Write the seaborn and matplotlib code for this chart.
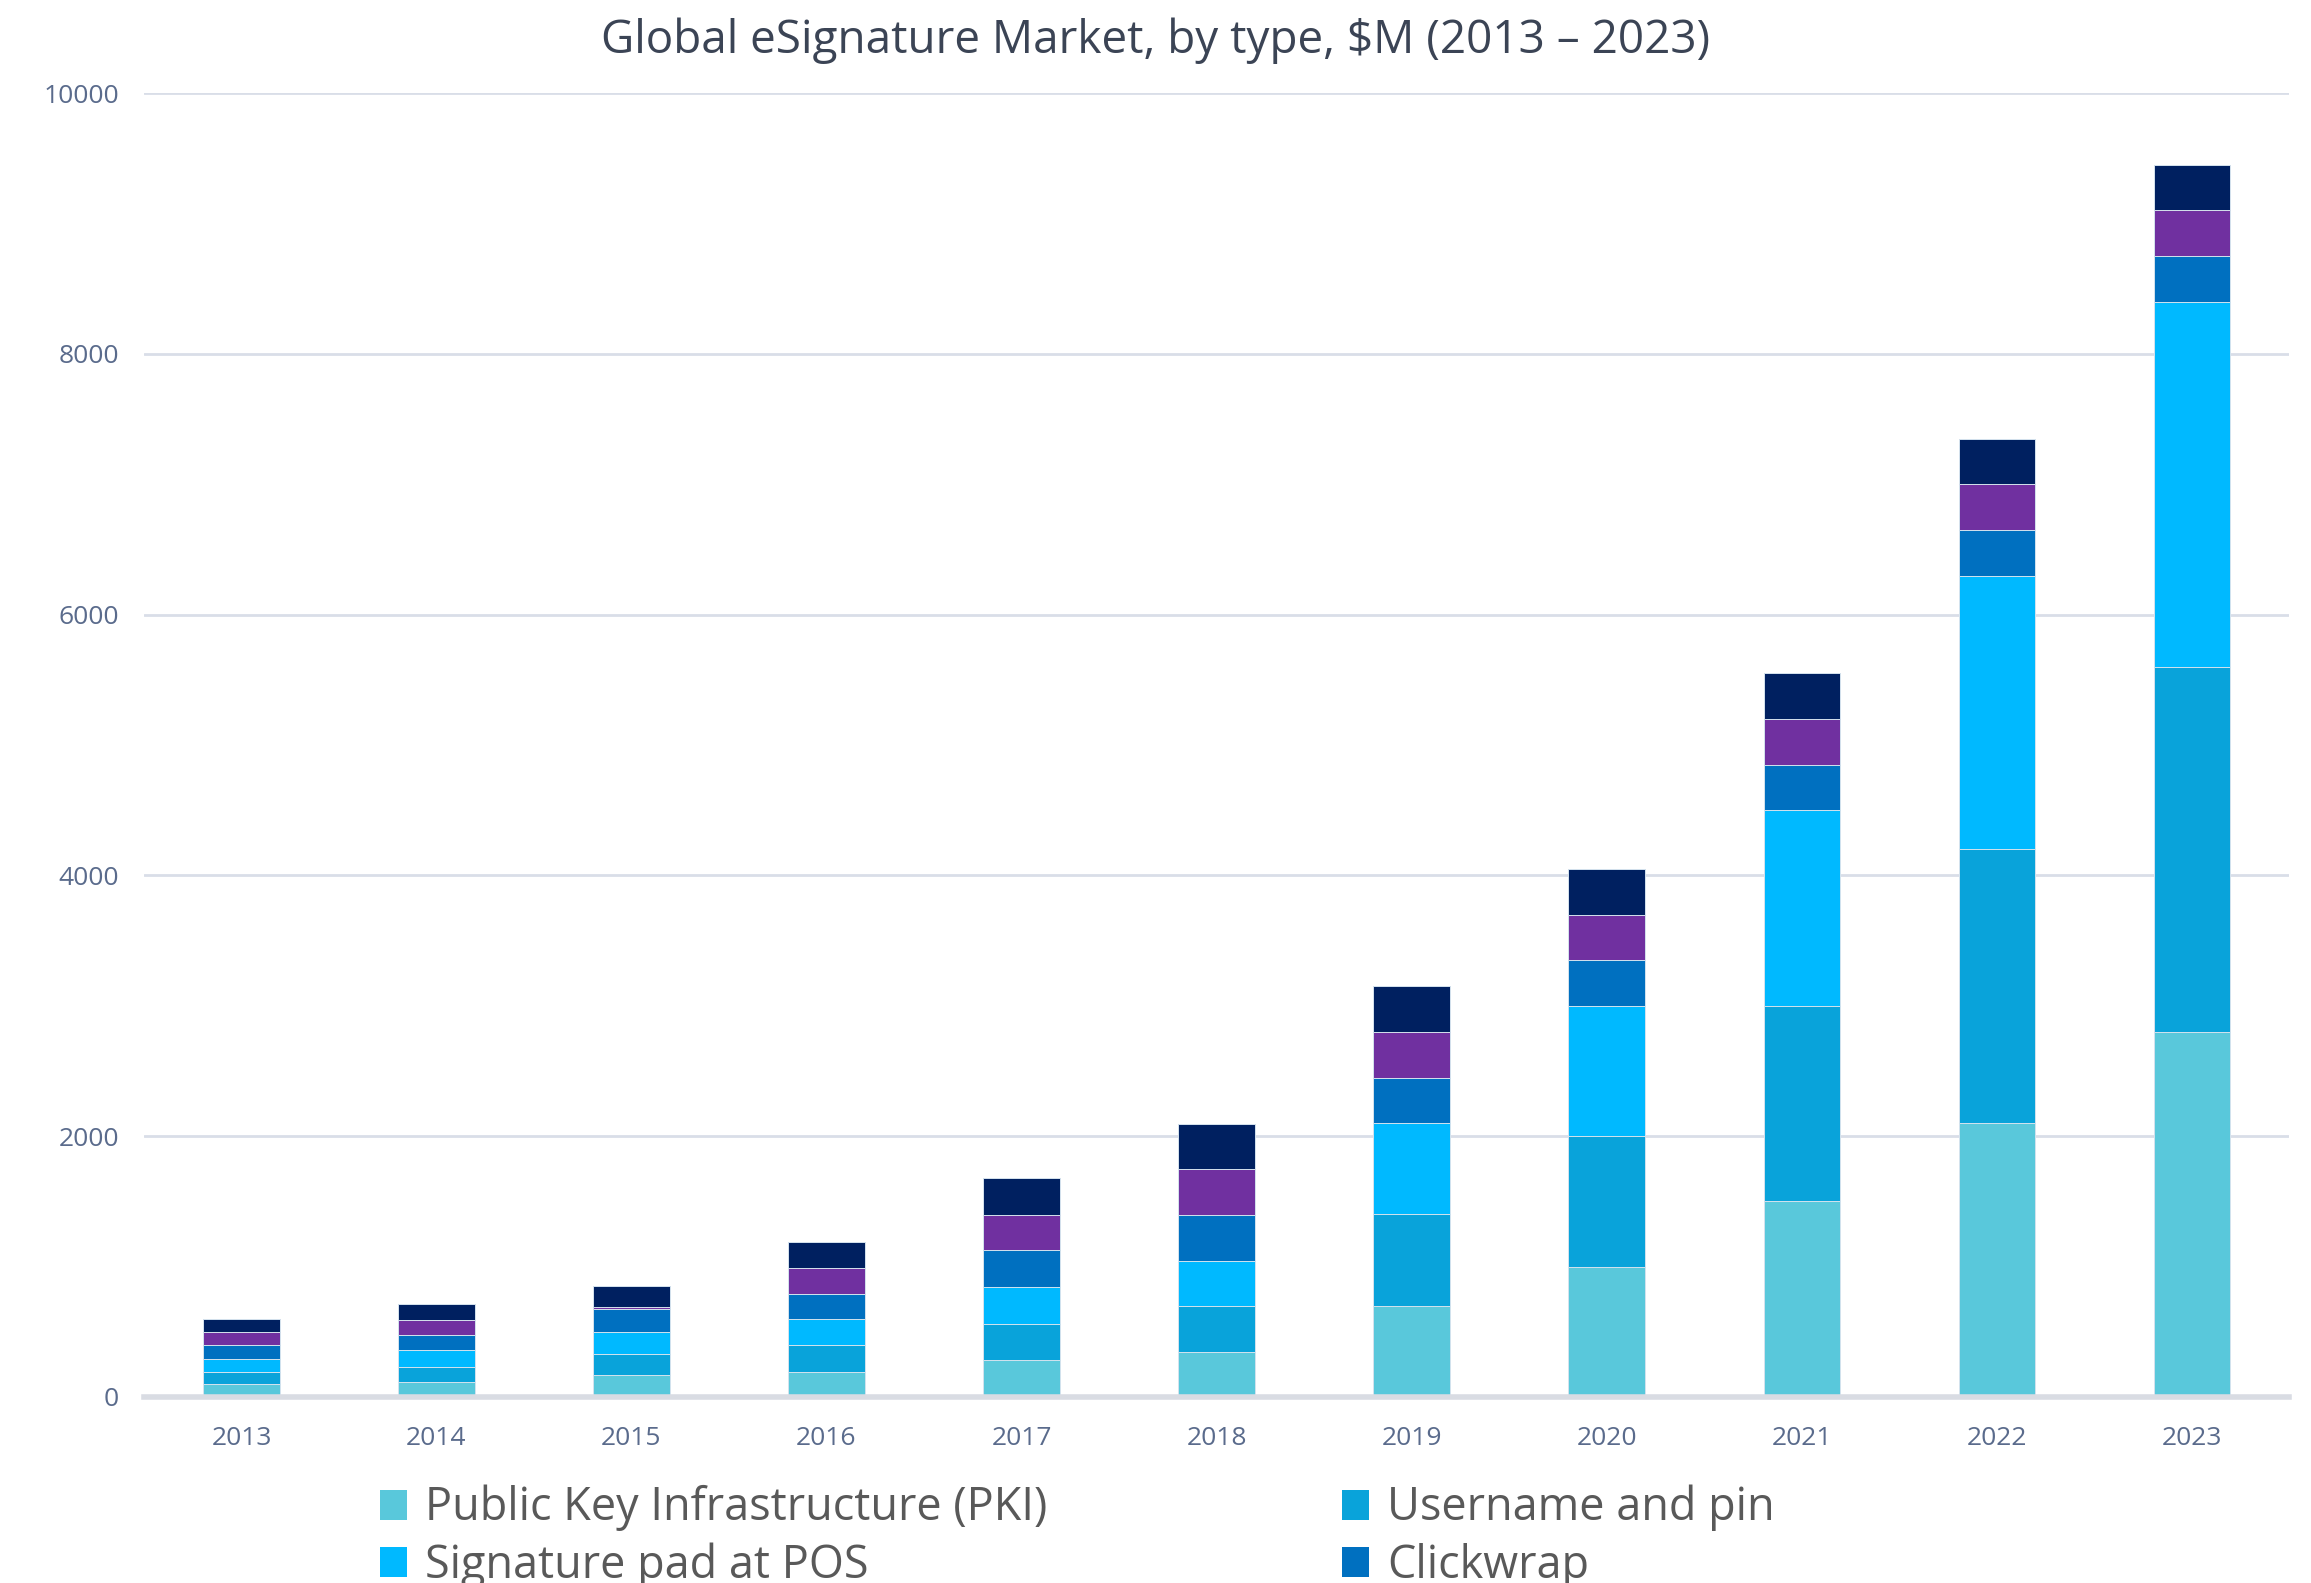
import numpy as np
import pandas as pd
import matplotlib
matplotlib.use("Agg")
import matplotlib.pyplot as plt
import seaborn as sns
from matplotlib.patches import Patch

# 資料 (from the picture, $M)
years = ["2013", "2014", "2015", "2016", "2017", "2018", "2019", "2020", "2021", "2022", "2023"]
series_names = ["Public Key Infrastructure (PKI)", "Username and pin", "Signature pad at POS",
                "Clickwrap", "Biometrics", "Other"]
pki = [100, 115, 165, 195, 280, 345, 700, 1000, 1500, 2100, 2800]
username_pin = [95, 118, 165, 200, 283, 350, 700, 1000, 1500, 2100, 2800]
signature_pad = [100, 125, 170, 200, 282, 350, 700, 1000, 1500, 2100, 2800]
clickwrap = [100, 120, 175, 197, 283, 350, 350, 350, 350, 350, 350]
biometrics = [100, 115, 13, 200, 271, 350, 350, 350, 350, 350, 350]
other = [100, 120, 167, 200, 282, 350, 350, 350, 350, 350, 350]
colors = ["#59C8DB", "#09A3DA", "#00B9FF", "#0070C0", "#7030A0", "#002060"]

sns.set_style("white")
plt.rcParams["font.family"] = ["Open Sans", "DejaVu Sans"]

fig = plt.figure(figsize=(23.11, 15.83), dpi=100)
ax = fig.add_axes([0.0623, 0.1175, 0.9282, 0.8237])

values = np.array([pki, username_pin, signature_pad, clickwrap, biometrics, other])
cum = values.cumsum(axis=0)

# 疊加長條：由上往下畫累積值
for i in range(len(series_names) - 1, -1, -1):
    df = pd.DataFrame({"year": years, "value": cum[i]})
    sns.barplot(data=df, x="year", y="value", color=colors[i], saturation=1,
                width=0.39, edgecolor="#D5E3EE", linewidth=0.7, ax=ax, zorder=3)

ax.set_ylim(0, 10000)
ax.set_xlim(-0.5, 10.5)
ax.set_yticks(range(0, 10001, 2000))
ax.yaxis.grid(True, color="#D9DEE8", linewidth=2, zorder=0)
ax.set_axisbelow(True)
for s in ["top", "right", "left"]:
    ax.spines[s].set_visible(False)
ax.spines["bottom"].set_color("#D9DCE3")
ax.spines["bottom"].set_linewidth(4)
ax.spines["bottom"].set_zorder(4)
ax.tick_params(axis="both", length=0, labelsize=19, labelcolor="#5A6B8C")
ax.tick_params(axis="x", pad=21)
ax.tick_params(axis="y", pad=18)
ax.set_xlabel("")
ax.set_ylabel("")

fig.text(0.5, 0.974, "Global eSignature Market, by type, $M (2013 \u2013 2023)",
         ha="center", va="center", fontsize=33, color="#3B4455")

# 圖例：列優先排列 (PKI, Username / Signature pad, Clickwrap)
order = [0, 2, 1, 3]
handles = [Patch(facecolor=colors[i], edgecolor="none") for i in order]
labels = [series_names[i] for i in order]
fig.legend(handles, labels, ncol=2, loc="upper left",
           bbox_to_anchor=(0.1645, 0.062), frameon=False, fontsize=32.4,
           labelcolor="#595959", handlelength=0.6, handleheight=0.65,
           handletextpad=0.4, columnspacing=6.55, labelspacing=0.25,
           borderaxespad=0, borderpad=0)

fig.savefig("out.png", dpi=100)
